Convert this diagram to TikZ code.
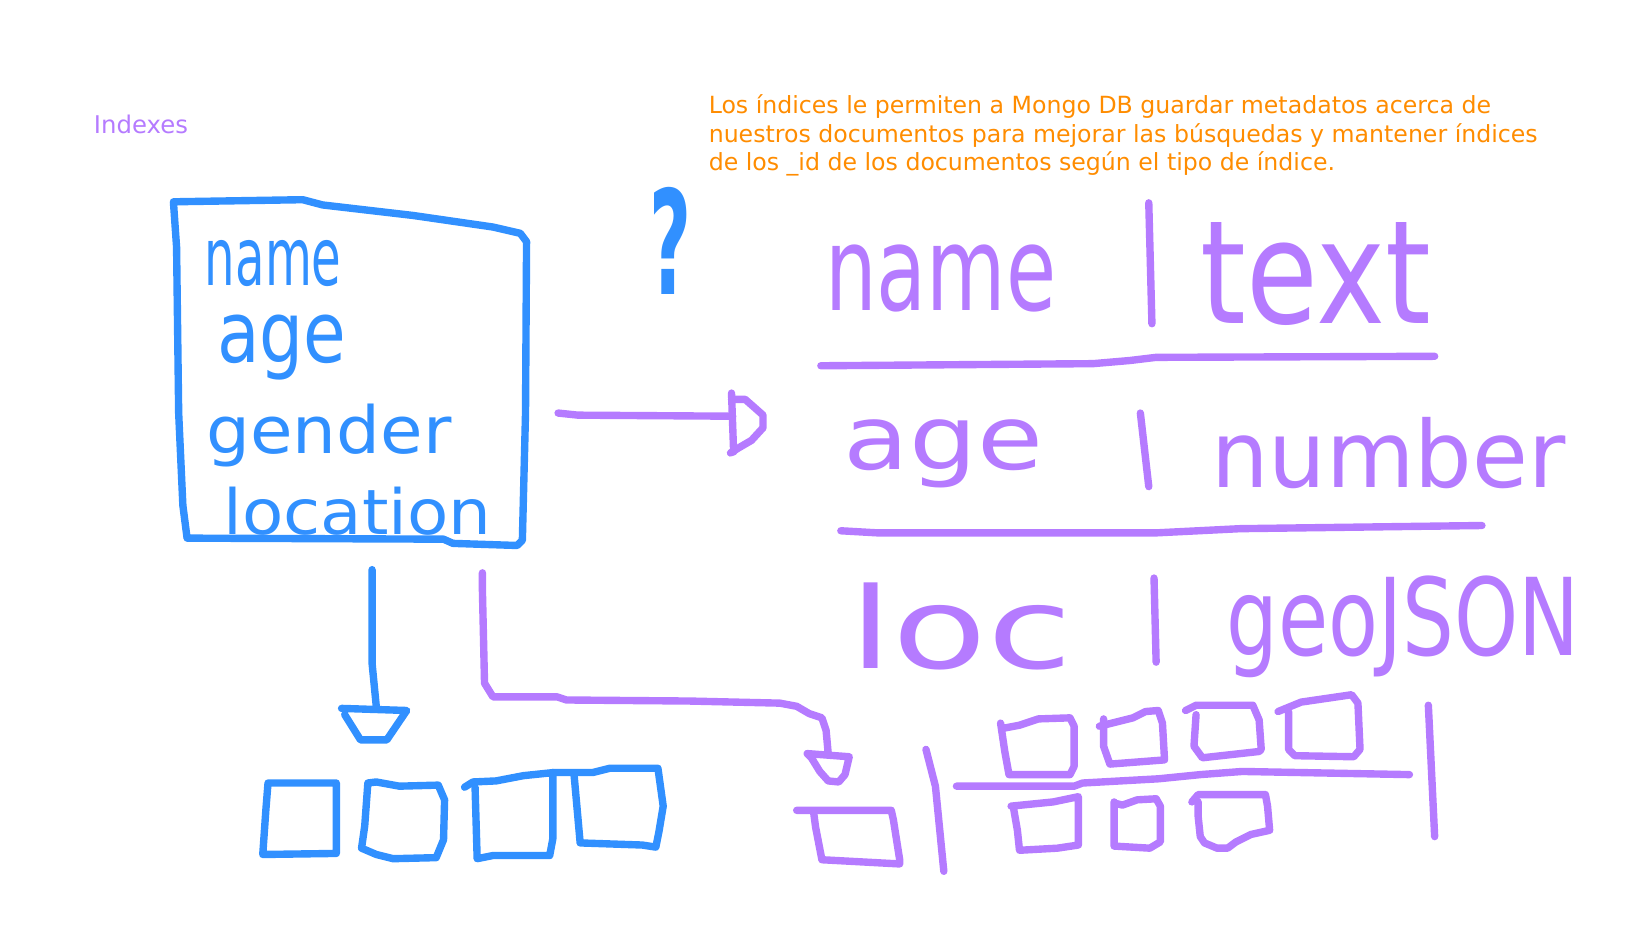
\documentclass[tikz,border=0pt]{standalone}
\usepackage{fontspec}
\setmainfont{DejaVu Sans}
\usepackage{graphicx}
\usetikzlibrary{positioning}

\definecolor{penblue}{HTML}{3190FF}
\definecolor{penpurple}{HTML}{B57BFF}
\definecolor{noteorange}{HTML}{FF8C00}

\newlength\pxu
\setlength\pxu{0.02cm}
% handwritten word squeezed into a w x h box (in px)
\newcommand{\handword}[3]{\resizebox*{#1\pxu}{#2\pxu}{#3}}

\tikzset{
  pen/.style={line width=4pt, line cap=round, line join=round},
  bluepen/.style={pen, draw=penblue},
  purplepen/.style={pen, draw=penpurple},
  bluehand/.style={inner sep=0pt, text=penblue},
  purplehand/.style={inner sep=0pt, text=penpurple},
  typed/.style={inner sep=0pt, font=\fontsize{12.8pt}{15.4pt}\selectfont}
}

\begin{document}
\begin{tikzpicture}[x=0.02cm, y=-0.02cm]
  \useasboundingbox (0,0) rectangle (1568,882);

  % typed notes
  \node[typed, text=penpurple, anchor=base west, font=\fontsize{13.2pt}{15.4pt}\selectfont] (title) at (89,127) {Indexes};
  \node[typed, text=noteorange, anchor=north west, align=left] (note) at (674,90)
    {Los índices le permiten a Mongo DB guardar metadatos acerca de\\
     nuestros documentos para mejorar las búsquedas y mantener índices\\
     de los \_id de los documentos según el tipo de índice.};

  % document box
  \draw[bluepen] (165,192) -- (288,190) -- (307,195) -- (393,205) -- (469,216)
    -- (495,222) -- (501,230) -- (500,393) -- (497,514) -- (492,519) -- (431,517)
    -- (422,513) -- (178,512) -- (174,481) -- (170,393) -- (168,235) -- cycle;
  \node[bluehand] (fname) at (260,251) {\handword{130}{44}{name}};
  \node[bluehand] (fage) at (268,331) {\handword{123}{62}{age}};
  \node[bluehand] (fgender) at (313,414) {\handword{233}{60}{gender}};
  \node[bluehand] (flocation) at (340,486) {\handword{255}{46}{location}};

  \node[bluehand] (question) at (638,229) {\handword{40}{102}{\bfseries ?}};

  % index table
  \node[purplehand] (kname) at (895,265) {\handword{220}{64}{name}};
  \node[purplehand] (vtext) at (1252,261) {\handword{219}{98}{text}};
  \node[purplehand] (kage) at (898,432) {\handword{190}{65}{age}};
  \node[purplehand] (vnumber) at (1321,431) {\handword{337}{68}{number}};
  \node[purplehand] (kloc) at (914,596) {\handword{212}{83}{loc}};
  \node[purplehand] (vgeo) at (1335,596) {\handword{336}{97}{geoJSON}};
  \draw[purplepen] (1093,193) -- (1096,308);
  \draw[purplepen] (1085,393) -- (1093,463);
  \draw[purplepen] (1098,550) -- (1100,630);
  \draw[purplepen] (781,348) -- (1040,346) -- (1075,343) -- (1100,340) -- (1365,339);
  \draw[purplepen] (800,505) -- (835,507) -- (1100,507) -- (1180,503) -- (1410,500);

  % box -> table
  \coordinate (rightstart) at (531,393);
  \coordinate (righttip) at (697,396);
  \draw[purplepen] (rightstart) -- (550,395) -- (righttip);
  \draw[purplepen] (696,374) -- (698,430);
  \draw[purplepen] (696,380) -- (709,380) -- (717,387) -- (726,395) -- (726,407)
    -- (715,419) -- (703,426) -- (695,431);

  % box -> plain list
  \coordinate (downstart) at (354,542);
  \coordinate (downtip) at (358,672);
  \draw[bluepen] (downstart) -- (354,631) -- (downtip);
  \draw[bluepen] (325,674) -- (387,676) -- (368,704) -- (343,704) -- (328,680);
  \draw[bluepen] (255,745) -- (320,745) -- (320,812) -- (250,813) -- (253,770) -- cycle;
  \draw[bluepen] (350,745) -- (358,744) -- (380,748) -- (417,747) -- (423,761)
    -- (422,799) -- (415,816) -- (374,817) -- (358,813) -- (344,807) -- (347,786) -- cycle;
  \draw[bluepen] (442,749) -- (450,744) -- (472,743) -- (498,738) -- (527,735)
    -- (564,735) -- (580,731) -- (626,731) -- (631,767) -- (627,791) -- (624,806)
    -- (611,804) -- (552,802) -- (546,735);
  \draw[bluepen] (452,749) -- (454,817) -- (469,814) -- (523,814) -- (526,798) -- (526,735);

  % box -> tree of buckets
  \coordinate (treestart) at (459,545);
  \coordinate (treetip) at (788,717);
  \draw[purplepen] (treestart) -- (459,562) -- (461,650) -- (469,663) -- (530,663)
    -- (539,666) -- (656,667) -- (742,669) -- (758,672) -- (770,679) -- (782,683)
    -- (786,695) -- (treetip);
  \draw[purplepen] (768,717) -- (808,720) -- (804,737) -- (798,744) -- (788,743)
    -- (780,734) -- (772,721) -- cycle;
  \draw[purplepen] (758,771) -- (848,771) -- (850,780) -- (856,818) -- (856,822)
    -- (782,818) -- (776,787) -- (774,772);
  \draw[purplepen] (881,713) -- (890,748) -- (898,829);
  \draw[purplepen] (910,748) -- (1022,748) -- (1030,745) -- (1102,741) -- (1142,737)
    -- (1182,734) -- (1341,737);
  \draw[purplepen] (1359,671) -- (1365,796);
  \draw[purplepen] (954,693) -- (970,690) -- (988,684) -- (1018,683) -- (1022,691)
    -- (1022,729) -- (1018,737) -- (960,737) -- (956,715) -- (952,688);
  \draw[purplepen] (1046,691) -- (1078,683) -- (1090,677) -- (1102,676) -- (1106,688)
    -- (1108,723) -- (1056,727) -- (1050,710) -- (1050,684);
  \draw[purplepen] (1128,676) -- (1138,671) -- (1192,671) -- (1198,685) -- (1200,713)
    -- (1198,715) -- (1144,721) -- (1136,710) -- (1138,680);
  \draw[purplepen] (1216,677) -- (1238,668) -- (1286,661) -- (1292,669) -- (1294,713)
    -- (1288,720) -- (1232,719) -- (1226,713) -- (1226,677);
  \draw[purplepen] (962,767) -- (1002,763) -- (1026,758) -- (1026,804) -- (1006,807)
    -- (970,809) -- (968,790) -- (964,767);
  \draw[purplepen] (1060,763) -- (1060,805) -- (1094,807) -- (1104,801) -- (1104,767)
    -- (1100,760) -- (1082,761) -- (1068,766) -- (1060,764);
  \draw[purplepen] (1134,763) -- (1140,756) -- (1204,756) -- (1206,767) -- (1208,790)
    -- (1190,794) -- (1176,801) -- (1168,807) -- (1158,807) -- (1146,802) -- (1142,796)
    -- (1140,777) -- (1140,763);
\end{tikzpicture}
\end{document}
